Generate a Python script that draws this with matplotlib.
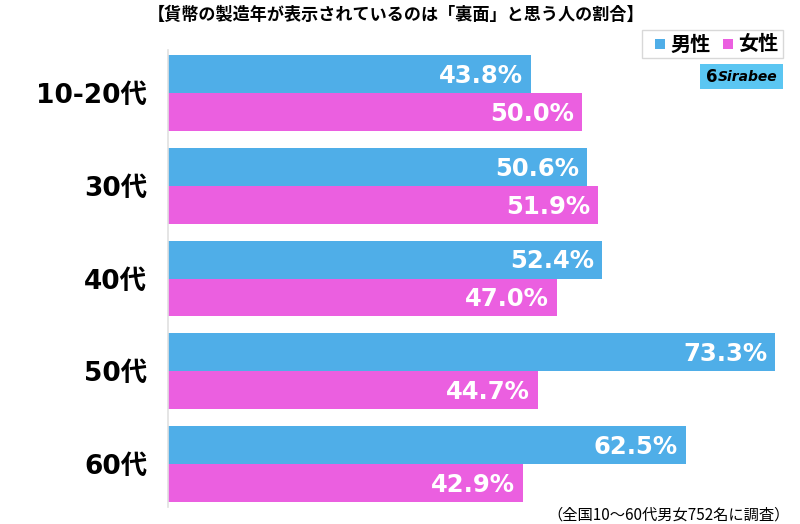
import numpy as np
import matplotlib.pyplot as plt
from matplotlib.patches import Rectangle

plt.rcParams['font.family'] = ['Noto Sans CJK JP', 'DejaVu Sans']

categories = ['10-20代', '30代', '40代', '50代', '60代']
male = [43.8, 50.6, 52.4, 73.3, 62.5]
female = [50.0, 51.9, 47.0, 44.7, 42.9]
series_names = ['男性', '女性']
title = '【貨幣の製造年が表示されているのは「裏面」と思う人の割合】'
note = '（全国10〜60代男女752名に調査）'

blue = '#4FAEE8'
pink = '#EB5FE0'
latin = ['DejaVu Sans', 'Noto Sans CJK JP']

W, H = 800, 524
fig = plt.figure(figsize=(W / 100, H / 100), dpi=100)
ax = fig.add_axes([168 / W, 1 - 507 / H, 632 / W, 457 / H])

y = np.arange(len(categories))
h = 38 / 93
ax.barh(y - h / 2, male, height=h, color=blue)
ax.barh(y + h / 2, female, height=h, color=pink)

ax.set_xlim(0, 632 / 8.28)
ax.set_ylim(4 + 43 / 93, -h - 5 / 93)

for yi, v in zip(y - h / 2, male):
    ax.text(v - 0.95, yi + 0.02, f'{v:.1f}%', color='white', fontsize=17.5, fontweight='bold',
            family=latin, ha='right', va='center')
for yi, v in zip(y + h / 2, female):
    ax.text(v - 0.95, yi + 0.02, f'{v:.1f}%', color='white', fontsize=17.5, fontweight='bold',
            family=latin, ha='right', va='center')

ax.set_yticks(y)
ax.set_yticklabels(categories, fontsize=19, fontweight='bold', family=latin)
ax.tick_params(axis='y', length=0, pad=15)
ax.set_xticks([])
for s in ['top', 'right', 'bottom']:
    ax.spines[s].set_visible(False)
ax.spines['left'].set_color('#e0e0e0')
ax.spines['left'].set_linewidth(1.2)

fig.text(396 / W, 1 - 15 / H, title, fontsize=12.3, fontweight='bold', ha='center', va='center')
fig.text(790 / W, 1 - 515 / H, note, fontsize=11, ha='right', va='center')

# legend
fig.patches.append(Rectangle((642 / W, 1 - 58 / H), 141 / W, 28 / H, transform=fig.transFigure,
                             facecolor='white', edgecolor='#d8d8d8', linewidth=1))
for i, (name, c) in enumerate(zip(series_names, [blue, pink])):
    x0 = 655 + i * 68
    fig.patches.append(Rectangle((x0 / W, 1 - 49 / H), 10 / W, 10 / H, transform=fig.transFigure,
                                 facecolor=c, edgecolor='none'))
    fig.text((x0 + 15) / W, 1 - 44 / H, name, fontsize=14.5, fontweight='bold', ha='left', va='center')

# logo
fig.patches.append(Rectangle((700 / W, 1 - 89 / H), 83 / W, 25 / H, transform=fig.transFigure,
                             facecolor='#5BC6F2', edgecolor='none'))
fig.text(706 / W, 1 - 77 / H, '6', fontsize=12, fontweight='bold', family=latin,
         ha='left', va='center')
fig.text(718 / W, 1 - 77 / H, 'Sirabee', fontsize=10, fontweight='bold', style='italic',
         family=latin, ha='left', va='center')

fig.savefig('out.png', dpi=100)
